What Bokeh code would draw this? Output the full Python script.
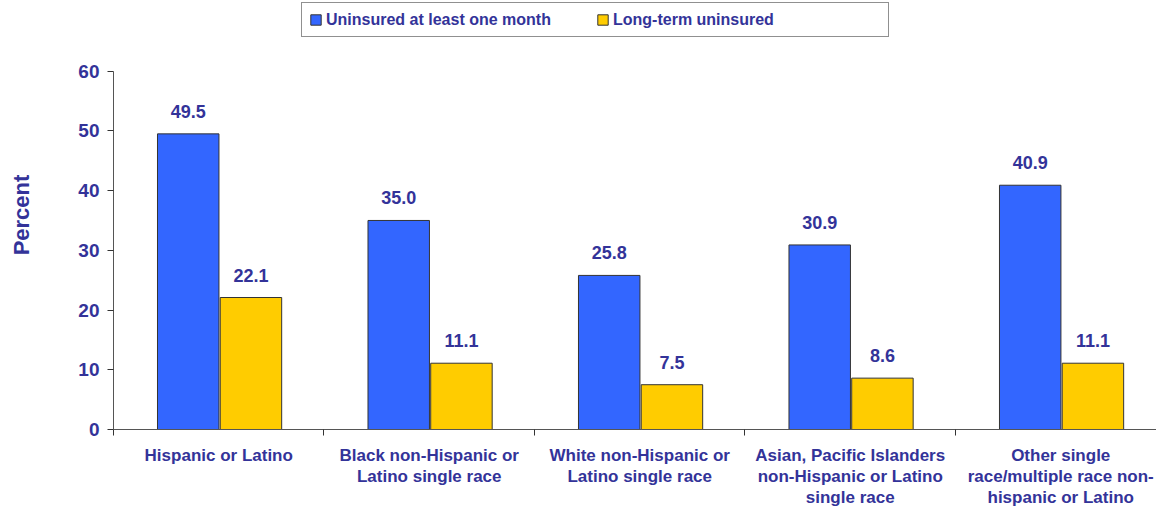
from bokeh.plotting import figure
from bokeh.models import (ColumnDataSource, Range1d, FixedTicker, LabelSet, Legend, LegendItem)
from bokeh.core.properties import value
from bokeh.transform import dodge
from bokeh.embed import file_html
from bokeh.resources import INLINE

categories = ["Hispanic or Latino",
              "Black non-Hispanic or\nLatino single race",
              "White non-Hispanic or\nLatino single race",
              "Asian, Pacific Islanders\nnon-Hispanic or Latino\nsingle race",
              "Other single\nrace/multiple race non-\nhispanic or Latino"]
uninsured_month = [49.5, 35.0, 25.8, 30.9, 40.9]
long_term = [22.1, 11.1, 7.5, 8.6, 11.1]
y_ticks = [0, 10, 20, 30, 40, 50, 60]

TXT = "#333399"
FONT = "Liberation Sans"

centers = [i + 0.5 for i in range(len(categories))]
src = ColumnDataSource(dict(
    x=centers,
    m=uninsured_month,
    l=long_term,
    ml=["%.1f" % v for v in uninsured_month],
    ll=["%.1f" % v for v in long_term],
))

p = figure(width=1156, height=510, output_backend="svg", toolbar_location=None,
           x_range=Range1d(0, 4.955), y_range=Range1d(0, 71.83),
           min_border_left=113, min_border_right=0, min_border_top=0,
           min_border_bottom=78)
p.outline_line_color = None
p.xgrid.visible = False
p.ygrid.visible = False
p.background_fill_color = "white"

r1 = p.vbar(x=dodge("x", -0.145, range=p.x_range), top="m", width=0.292, source=src,
            fill_color="#3366FF", line_color="#333333", line_width=1)
r2 = p.vbar(x=dodge("x", 0.153, range=p.x_range), top="l", width=0.292, source=src,
            fill_color="#FFCC00", line_color="#333333", line_width=1)

for col, lab, off in (("m", "ml", -0.145), ("l", "ll", 0.153)):
    p.add_layout(LabelSet(x=dodge("x", off, range=p.x_range), y=col, text=lab, source=src,
                          text_align="center", text_baseline="bottom", y_offset=16,
                          text_font=value(FONT), text_font_style="bold",
                          text_font_size="18px", text_color=TXT))

# y axis
ya = p.yaxis[0]
ya.ticker = FixedTicker(ticks=y_ticks)
ya.bounds = (0, 60)
ya.axis_label = "Percent"
ya.axis_label_text_font = FONT
ya.axis_label_text_font_style = "bold"
ya.axis_label_text_font_size = "22px"
ya.axis_label_text_color = TXT
ya.axis_label_standoff = 41
ya.major_label_text_font = FONT
ya.major_label_text_font_style = "bold"
ya.major_label_text_font_size = "19px"
ya.major_label_text_color = TXT
ya.major_label_standoff = 8
ya.major_tick_out = 6
ya.major_tick_in = 0
ya.minor_tick_line_color = None
ya.axis_line_color = "#555555"
ya.major_tick_line_color = "#333333"

# x axis
xa = p.xaxis[0]
xa.ticker = FixedTicker(ticks=centers, minor_ticks=list(range(len(categories) + 1)))
xa.major_label_overrides = {c: lab for c, lab in zip(centers, categories)}
xa.major_tick_out = 0
xa.major_tick_in = 0
xa.major_tick_line_color = None
xa.minor_tick_out = 6
xa.minor_tick_in = 0
xa.minor_tick_line_color = "#333333"
xa.axis_line_color = "#555555"
xa.major_label_text_font = FONT
xa.major_label_text_font_style = "bold"
xa.major_label_text_font_size = "17px"
xa.major_label_text_color = TXT
xa.major_label_text_align = "center"
xa.major_label_standoff = 10
xa.major_label_text_line_height = 1.12

legend = Legend(items=[LegendItem(label="Uninsured at least one month", renderers=[r1]),
                       LegendItem(label="Long-term uninsured", renderers=[r2])],
                orientation="horizontal", location=(188, 392),
                border_line_color="#222222", border_line_width=1,
                padding=7, spacing=2, margin=0,
                glyph_width=13, glyph_height=13, label_standoff=4,
                label_width=268, label_height=19,
                label_text_font=FONT, label_text_font_style="bold",
                label_text_font_size="16px", label_text_color=TXT)
p.add_layout(legend, "center")

open("out.html", "w").write(file_html(p, INLINE))
